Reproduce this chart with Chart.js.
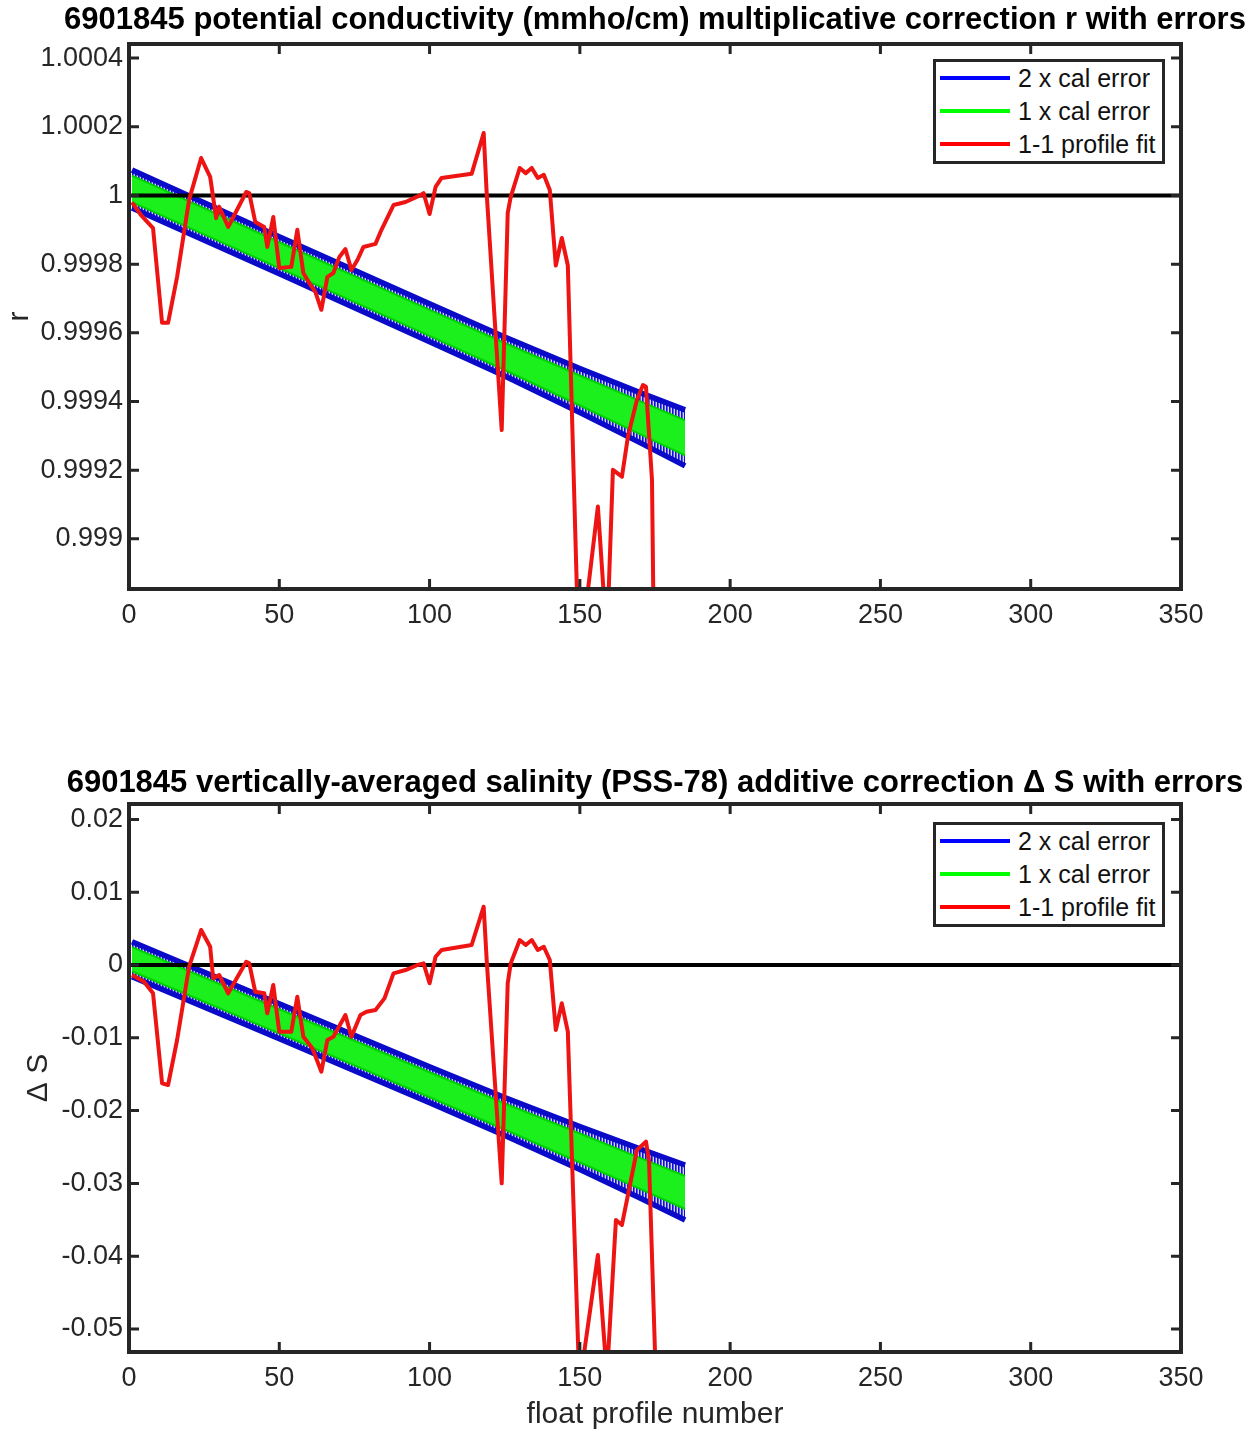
<!DOCTYPE html>
<html>
<head>
<meta charset="utf-8">
<title>6901845 corrections with errors</title>
<script src="https://cdn.jsdelivr.net/npm/chart.js@4.4.1/dist/chart.umd.min.js"></script>
<style>
    html, body { margin: 0; padding: 0; background: #fff; overflow: hidden; }
    #page { position: relative; width: 1257px; height: 1433px; overflow: hidden; }
    #page canvas { position: absolute; left: 0; }
    #chart-r { top: 0; width: 1310px; height: 650px; }
    #chart-ds { top: 650px; width: 1310px; height: 783px; }
    .legend {
        position: absolute; left: 933px; width: 226px; height: 99px;
        border: 3px solid #262626; background: #fff;
        font: 25px "Liberation Sans", Arial, sans-serif; color: #111;
    }
    .legend .row { position: relative; height: 33px; }
    .legend .swatch { position: absolute; left: 4px; top: 14px; width: 70px; height: 4px; }
    .legend .txt { position: absolute; left: 82px; top: 1px; line-height: 30px; white-space: nowrap; }
</style>
</head>
<body>
<div id="page">
    <canvas id="chart-r" width="1310" height="650"></canvas>
    <canvas id="chart-ds" width="1310" height="783"></canvas>
    <div class="legend" id="legend-r" style="top:59px"></div>
    <div class="legend" id="legend-ds" style="top:822px"></div>
</div>
<script>
(function() {
    'use strict';

    // shared x axis
    const xTicks = [0, 50, 100, 150, 200, 250, 300, 350];
    const xLimits = [0, 350];

    const fitProfiles = [1, 50, 100, 125, 150, 170, 185];

    // ---- top panel: multiplicative correction r ----
    const rTicks = [0.999, 0.9992, 0.9994, 0.9996, 0.9998, 1, 1.0002, 1.0004];
    const rTickLabels = ['0.999', '0.9992', '0.9994', '0.9996', '0.9998', '1', '1.0002', '1.0004'];
    const rLimits = [0.998854, 1.000441];
    const rFit = [1.000019, 0.999826, 0.999629, 0.999531, 0.999432, 0.999353, 0.999294];
    const rErr2 = [0.0000553, 0.0000539, 0.0000553, 0.0000568, 0.0000640, 0.0000728, 0.0000815];
    const rErr1 = [0.0000387, 0.0000378, 0.0000378, 0.0000393, 0.0000437, 0.0000480, 0.0000509];
    const rRefX = [0, 350];
    const rRefY = [1, 1];
    const rProfiles = [1, 4, 8, 11, 13, 16, 20, 24, 27, 29, 30, 33, 39, 40, 42, 45, 46, 48, 50, 54,
        56, 58, 60, 62, 64, 66, 68, 70, 72, 74, 76, 78, 82, 84, 88, 92, 97, 98, 100, 102,
        104, 114, 118, 119, 124, 126, 127, 130, 132, 134, 136, 138, 140, 142, 144, 146, 150, 152, 156, 159,
        161, 164, 166, 169, 171, 172, 174, 175];
    const rValues = [0.99998, 0.999943, 0.999905, 0.999629, 0.999629, 0.999763, 0.999987, 1.000109, 1.000054, 0.999934,
        0.999967, 0.999908, 1.00001, 1.000007, 0.999923, 0.999908, 0.99985, 0.999937, 0.999789, 0.999792,
        0.9999, 0.999774, 0.999745, 0.999719, 0.999667, 0.999763, 0.999774, 0.999821, 0.999844, 0.999783,
        0.999812, 0.99985, 0.999859, 0.9999, 0.999972, 0.999981, 1.000001, 1.000007, 0.999946, 1.000025,
        1.000051, 1.000063, 1.000182, 1.000007, 0.999317, 0.999949, 0.999996, 1.00008, 1.000065, 1.00008,
        1.000051, 1.00006, 1.000016, 0.999796, 0.999876, 0.999796, 0.99854, 0.9988, 0.999094, 0.9987,
        0.999201, 0.999181, 0.999298, 0.999405, 0.999448, 0.999443, 0.999172, 0.9984];

    // ---- bottom panel: additive correction delta S ----
    const dsTicks = [-0.05, -0.04, -0.03, -0.02, -0.01, 0, 0.01, 0.02];
    const dsTickLabels = ['-0.05', '-0.04', '-0.03', '-0.02', '-0.01', '0', '0.01', '0.02'];
    const dsLimits = [-0.05316, 0.02212];
    const dsFit = [0.0008, -0.00773, -0.01645, -0.02081, -0.02514, -0.02863, -0.03125];
    const dsErr2 = [0.0024, 0.0024, 0.00247, 0.00261, 0.00295, 0.00337, 0.00378];
    const dsErr1 = [0.00165, 0.00165, 0.00172, 0.00179, 0.00199, 0.00213, 0.00227];
    const dsRefX = [0, 350];
    const dsRefY = [0, 0];
    const dsProfiles = [1, 5, 8, 11, 13, 16, 20, 24, 27, 28, 30, 33, 39, 40, 42, 45, 46, 48, 50, 54,
        56, 58, 61, 64, 66, 68, 72, 74, 77, 79, 82, 85, 88, 92, 96, 98, 100, 102, 104, 114,
        118, 119, 124, 126, 127, 130, 132, 134, 136, 138, 140, 142, 144, 146, 150, 151, 156, 159, 162, 164,
        167, 169, 172, 173, 176];
    const dsValues = [-0.00137, -0.00229, -0.00389, -0.01625, -0.01648, -0.0103, -0.00023, 0.00481, 0.00251, -0.00183,
        -0.00137, -0.00389, 0.00045, 0.00023, -0.00367, -0.00389, -0.00663, -0.00275, -0.00916, -0.00916,
        -0.00435, -0.00985, -0.01144, -0.01466, -0.0103, -0.00985, -0.00687, -0.00985, -0.00687, -0.00641,
        -0.00618, -0.00458, -0.00114, -0.00069, 0, 0.00023, -0.00251, 0.00114, 0.00206, 0.00275,
        0.00801, 0.00069, -0.02999, -0.00251, 0.00023, 0.00343, 0.00275, 0.00343, 0.00206, 0.00251,
        0.00069, -0.00893, -0.00526, -0.00916, -0.0596, -0.0545, -0.03984, -0.0565, -0.03503, -0.03571,
        -0.02953, -0.02541, -0.02427, -0.02679, -0.0664];

    const FONT = '"Liberation Sans", Arial, Helvetica, sans-serif';
    const AXIS_COLOR = '#262626';

    // vertical stems of the error bars, as a repeating fill
    function stemPattern() {
        const c = document.createElement('canvas');
        c.width = 3;
        c.height = 1;
        const g = c.getContext('2d');
        g.fillStyle = '#d4d4f6'; g.fillRect(0, 0, 3, 1);
        g.fillStyle = '#5a5ae2'; g.fillRect(1, 0, 1, 1);
        g.fillStyle = '#1010d0'; g.fillRect(0, 0, 1, 1);
        return g.createPattern(c, 'repeat');
    }

    // MATLAB style box with inward ticks on all four sides
    const boxPlugin = {
        id: 'matlabBox',
        afterDatasetsDraw(chart) {
            const { ctx, chartArea: a } = chart;
            const x = chart.scales.x, y = chart.scales.y;
            const len = 10;
            ctx.save();
            ctx.strokeStyle = AXIS_COLOR;
            ctx.lineWidth = 3;
            ctx.beginPath();
            x.ticks.forEach(t => {
                const px = x.getPixelForValue(t.value);
                ctx.moveTo(px, a.bottom); ctx.lineTo(px, a.bottom - len);
                ctx.moveTo(px, a.top); ctx.lineTo(px, a.top + len);
            });
            y.ticks.forEach(t => {
                const py = y.getPixelForValue(t.value);
                ctx.moveTo(a.left, py); ctx.lineTo(a.left + len, py);
                ctx.moveTo(a.right, py); ctx.lineTo(a.right - len, py);
            });
            ctx.stroke();
            ctx.lineWidth = 4;
            ctx.strokeRect(a.left, a.top, a.right - a.left, a.bottom - a.top);
            ctx.restore();
        }
    };

    function points(xs, ys) {
        return xs.map((v, i) => ({ x: v, y: ys[i] }));
    }

    function band(xs, centre, err, sign) {
        return xs.map((v, i) => ({ x: v, y: centre[i] + sign * err[i] }));
    }

    function buildChart(canvasId, p) {
        const line = { pointRadius: 0, tension: 0, fill: false };
        return new Chart(document.getElementById(canvasId), {
            type: 'line',
            data: {
                datasets: [
                    Object.assign({}, line, {
                        data: band(fitProfiles, p.fit, p.err2, 1), borderColor: '#0a0ac8', borderWidth: 5.5,
                        fill: '+1', backgroundColor: stemPattern(), order: 6,
                        legendText: '2 x cal error', legendColor: '#0000ff'
                    }),
                    Object.assign({}, line, {
                        data: band(fitProfiles, p.fit, p.err2, -1), borderColor: '#0a0ac8', borderWidth: 5.5, order: 5
                    }),
                    Object.assign({}, line, {
                        data: band(fitProfiles, p.fit, p.err1, 1), borderColor: '#00d200', borderWidth: 2,
                        fill: '+1', backgroundColor: '#1cf01c', order: 4,
                        legendText: '1 x cal error', legendColor: '#00ff00'
                    }),
                    Object.assign({}, line, {
                        data: band(fitProfiles, p.fit, p.err1, -1), borderColor: '#00d200', borderWidth: 2, order: 3
                    }),
                    Object.assign({}, line, {
                        data: points(p.refX, p.refY), borderColor: '#000', borderWidth: 4, order: 2
                    }),
                    Object.assign({}, line, {
                        data: points(p.profiles, p.values), borderColor: '#ee1414', borderWidth: 4,
                        borderJoinStyle: 'round', order: 1,
                        legendText: '1-1 profile fit', legendColor: '#ff0000'
                    })
                ]
            },
            options: {
                responsive: false,
                animation: false,
                devicePixelRatio: 1,
                layout: { padding: { top: p.padTop, left: 0, right: 0, bottom: 0 } },
                plugins: {
                    legend: { display: false },
                    tooltip: { enabled: false },
                    title: {
                        display: true,
                        text: p.title,
                        color: '#000',
                        font: { family: FONT, size: 31, weight: 'bold', lineHeight: 1.2 },
                        padding: p.titlePad
                    }
                },
                scales: {
                    x: {
                        type: 'linear',
                        min: xLimits[0],
                        max: xLimits[1],
                        afterBuildTicks: s => { s.ticks = xTicks.map(v => ({ value: v })); },
                        afterFit: s => { s.height = p.xHeight; },
                        grid: { display: false, drawTicks: false },
                        border: { display: false },
                        ticks: {
                            padding: 10, color: AXIS_COLOR, maxRotation: 0, autoSkip: false,
                            font: { family: FONT, size: 27 }
                        },
                        title: {
                            display: !!p.xTitle, text: p.xTitle || '', color: AXIS_COLOR,
                            font: { family: FONT, size: 30, lineHeight: 1.2 },
                            padding: { top: 0, bottom: 0 }
                        }
                    },
                    y: {
                        type: 'linear',
                        position: 'left',
                        min: p.yLimits[0],
                        max: p.yLimits[1],
                        afterBuildTicks: s => { s.ticks = p.yTicks.map(v => ({ value: v })); },
                        afterFit: s => { s.width = 129; },
                        grid: { display: false, drawTicks: false },
                        border: { display: false },
                        ticks: {
                            padding: 6, color: AXIS_COLOR, autoSkip: false,
                            font: { family: FONT, size: 27 },
                            callback: (v, i) => p.yTickLabels[i]
                        },
                        title: {
                            display: true, text: p.yTitle, color: AXIS_COLOR,
                            font: { family: FONT, size: 30, lineHeight: 1.2 },
                            padding: { top: p.yTitlePad, bottom: 0 }
                        }
                    },
                    // empty right axis, keeps the title centred over the plot box
                    yRight: {
                        type: 'linear',
                        position: 'right',
                        afterFit: s => { s.width = 129; },
                        grid: { display: false, drawTicks: false },
                        border: { display: false },
                        ticks: { display: false }
                    }
                }
            },
            plugins: [boxPlugin]
        });
    }

    function renderLegend(el, chart) {
        let html = '';
        chart.data.datasets.forEach(d => {
            if (!d.legendText) return;
            html += `<div class="row"><span class="swatch" style="background:${d.legendColor}"></span>` +
                `<span class="txt">${d.legendText}</span></div>`;
        });
        el.innerHTML = html;
    }

    const chartR = buildChart('chart-r', {
        title: '6901845 potential conductivity (mmho/cm) multiplicative correction r with errors',
        titlePad: { top: 1.4, bottom: 5.4 },
        padTop: 0,
        xHeight: 61,
        xTitle: '',
        yTitle: 'r',
        yTitlePad: 2,
        yTicks: rTicks,
        yTickLabels: rTickLabels,
        yLimits: rLimits,
        fit: rFit, err2: rErr2, err1: rErr1,
        refX: rRefX, refY: rRefY,
        profiles: rProfiles, values: rValues
    });

    const chartDs = buildChart('chart-ds', {
        title: '6901845 vertically-averaged salinity (PSS-78) additive correction \u0394 S with errors',
        titlePad: { top: 4.9, bottom: 1.9 },
        padTop: 110,
        xHeight: 81,
        xTitle: 'float profile number',
        yTitle: '\u0394 S',
        yTitlePad: 21,
        yTicks: dsTicks,
        yTickLabels: dsTickLabels,
        yLimits: dsLimits,
        fit: dsFit, err2: dsErr2, err1: dsErr1,
        refX: dsRefX, refY: dsRefY,
        profiles: dsProfiles, values: dsValues
    });

    renderLegend(document.getElementById('legend-r'), chartR);
    renderLegend(document.getElementById('legend-ds'), chartDs);
})();
</script>
</body>
</html>
